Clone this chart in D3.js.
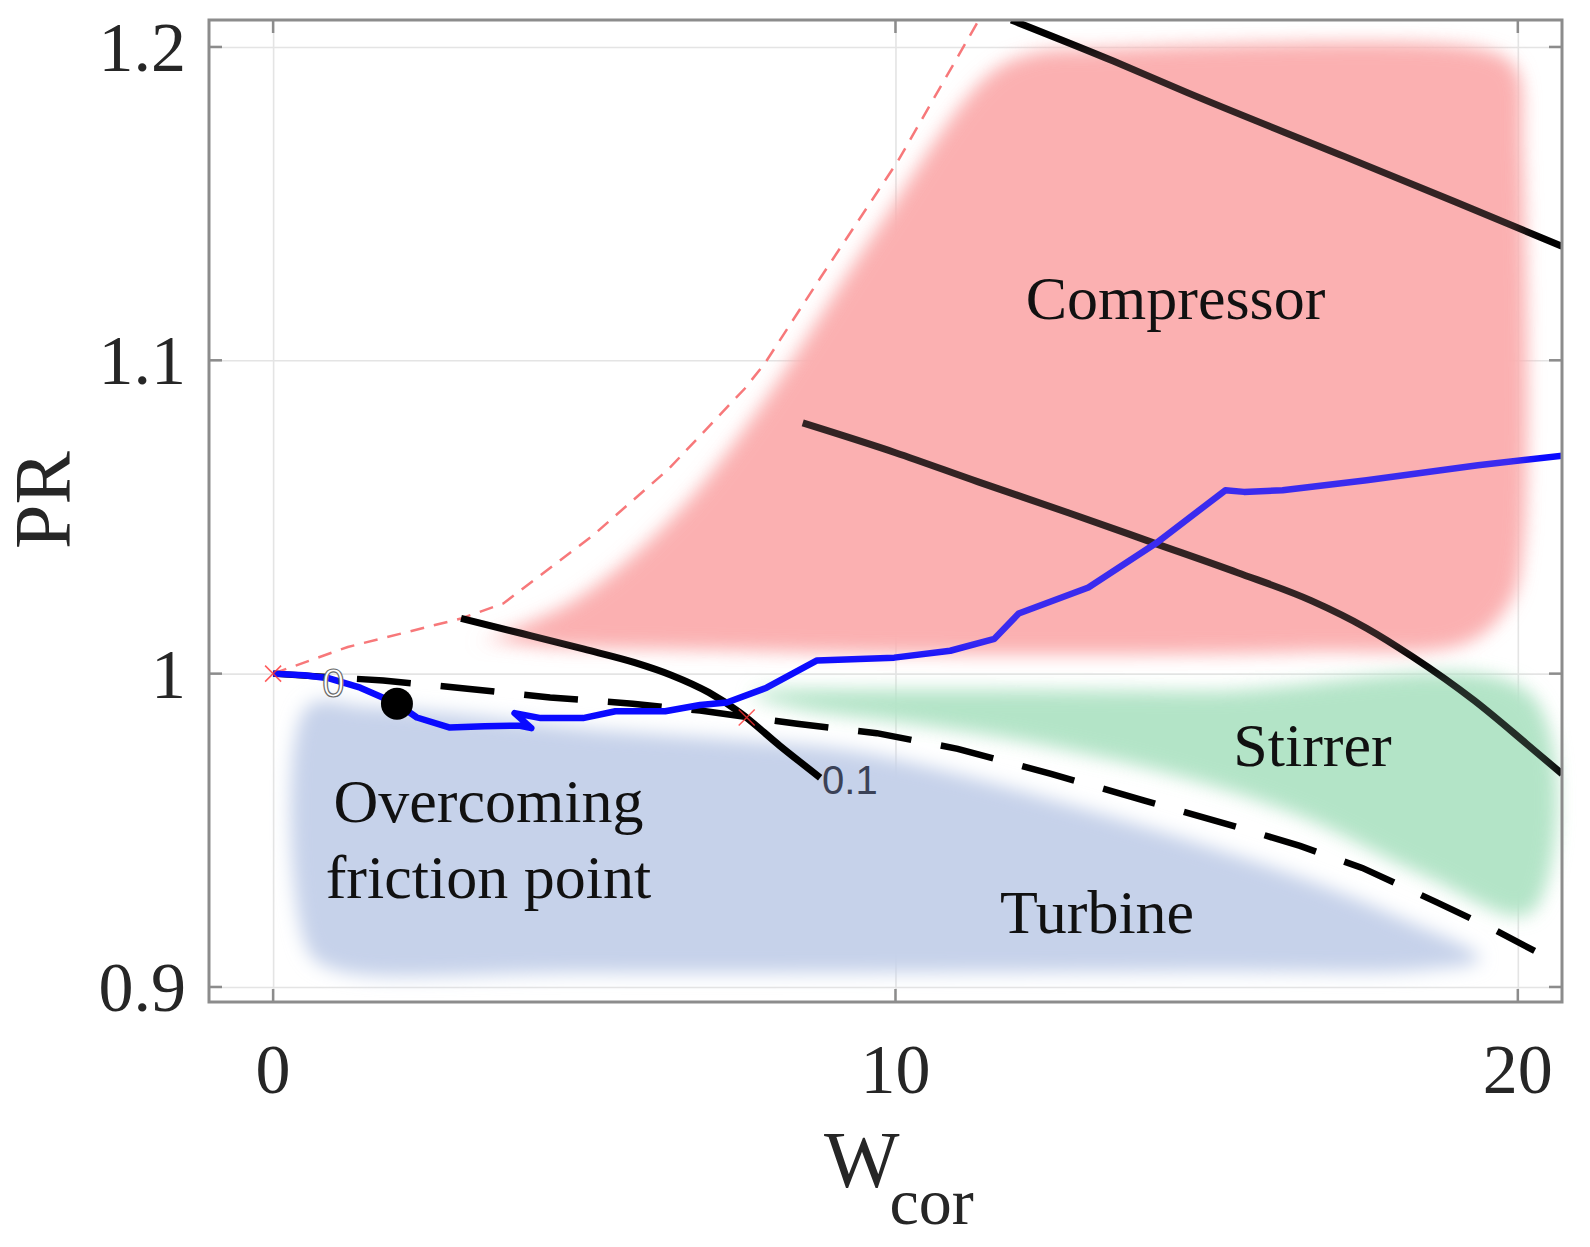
<html>
<meta charset="UTF-8">
<head>
    <title>PR vs Wcor</title>
    <script src="https://d3js.org/d3.v7.min.js"></script>
    <style>
        body { margin: 0; background: white; }
        .gridLines line { stroke: #e4e4e4; stroke-width: 1.6; }
        .gridLines .domain { stroke: none; }
        .tickLabel { font-family: "Liberation Serif", "Times New Roman", serif; fill: #262626; }
        .regionLabel { font-family: "Liberation Serif", "Times New Roman", serif; fill: #111; font-size: 62px; }
        .contourLabel { font-family: "Liberation Sans", Arial, sans-serif; font-size: 40px; }
    </style>
</head>
<body>
<svg id="graph" width="1590" height="1247"></svg>
<script>
    // ticks
    const xTicks = [0, 10, 20];
    const yTicks = [0.9, 1.0, 1.1, 1.2];
    const yTickLabels = ["0.9", "1", "1.1", "1.2"];

    // operating regions (blurred patches)
    const compressorRegion = [[3.28,1.0096],[3.89,1.014],[5.0,1.025],[6.5,1.051],[7.9,1.0866],[9.7,1.141],
        [11.5,1.1907],[12.2,1.1975],[13.3,1.199],[19.4,1.199],[19.95,1.193],[20.06,1.167],[20.06,1.039],
        [19.87,1.0233],[19.2,1.0105],[16.5,1.0073],[10.07,1.0067],[6.86,1.008],[4.45,1.009],[3.49,1.0105]];
    const stirrerRegion = [[7.7,0.9935],[10,0.9945],[15,0.994],[20.2,0.993],[20.2,0.924],[18.5,0.936],
        [16.5,0.955],[14.5,0.968],[12,0.979],[10,0.985],[8.5,0.989]];
    const turbineRegion = [[0.55,0.9895],[1.5,0.9895],[3,0.987],[5,0.9825],[7,0.9795],[9.3,0.9754],[11,0.968],
        [13,0.957],[15,0.945],[16.5,0.935],[18,0.923],[19.4,0.909],[18.5,0.9055],[15,0.905],[5,0.9045],
        [1,0.9055],[0.55,0.912]];
    const regionColors = ["#fbb0b1", "#b3e4c7", "#c6d2ea"];

    // surge-like boundary (red dashed)
    const redDashed = [[0,1.0],[1.2,1.0085],[3.02,1.0176],[3.7,1.0224],[5.12,1.0438],[6.35,1.0652],[7.58,1.091],
        [7.9,1.099],[8.8,1.1265],[10.04,1.1636],[11.34,1.2086]];

    // zero-torque line (black dashed)
    const blackDashed = [[0,1.0],[1.77,0.9978],[3.12,0.9952],[4.45,0.9924],[5.78,0.9904],[6.86,0.9882],
        [8.42,0.984],[9.7,0.981],[11,0.976],[12.5,0.968],[14,0.9595],[15.5,0.951],[16.5,0.945],[17.5,0.938],
        [18.7,0.927],[19.6,0.9185],[20.27,0.9115]];

    // speed lines (black solid)
    const speedLow = [[3.02,1.0176],[4.0,1.0128],[5.0,1.0078],[5.8,1.0036],[6.4,0.9995],[7.0,0.9940],
        [7.5,0.9876],[8.14,0.9770],[8.79,0.9668]];
    const speedMid = [[8.51,1.0800],[10,1.0705],[11.33,1.0612],[12.8,1.0512],[14.18,1.0415],[15.5,1.0322],
        [16.68,1.0233],[17.57,1.0145],[18.3,1.0055],[19.3,0.9914],[20.14,0.9776],[20.71,0.968]];
    const speedHigh = [[11.86,1.2086],[13.5,1.1955],[14.68,1.1855],[17.22,1.1650],[19,1.1505],[20.71,1.1364]];

    // operating trajectory (blue)
    const trajectory = [[0,1.0],[0.5,0.9995],[0.9,0.9985],[1.4,0.9955],[1.99,0.9904],[2.31,0.986],[2.84,0.9828],
        [3.4,0.9832],[3.95,0.9834],[4.15,0.9826],[3.88,0.9874],[4.3,0.9858],[4.98,0.9858],[5.5,0.988],
        [6.3,0.988],[6.86,0.99],[7.29,0.9908],[7.93,0.9955],[8.74,1.0042],[9.98,1.0051],[10.88,1.0073],
        [11.59,1.0111],[11.98,1.0192],[13.1,1.0275],[14.18,1.0415],[15.3,1.0585],[15.6,1.058],[16.22,1.0585],
        [17.57,1.0617],[19.36,1.0665],[20.74,1.0696]];

    const frictionPoint = [1.99, 0.9904];
    const redMarks = [[0, 1.0], [7.61, 0.986]];

    const g = d3.select("svg#graph");
    const box = {left: 209, right: 1562, top: 20, bottom: 1002};

    const xScale = d3.scaleLinear().domain([-1.03, 20.71]).range([box.left, box.right]);
    const yScale = d3.scaleLinear().domain([0.8952, 1.2086]).range([box.bottom, box.top]);

    const defs = g.append("defs");
    defs.append("filter").attr("id", "soft")
        .attr("x", "-10%").attr("y", "-10%").attr("width", "120%").attr("height", "120%")
        .append("feGaussianBlur").attr("stdDeviation", 9);
    defs.append("clipPath").attr("id", "plotClip")
        .append("rect")
        .attr("x", box.left).attr("y", box.top)
        .attr("width", box.right - box.left).attr("height", box.bottom - box.top);

    // grid lines
    g.append("g")
        .attr("class", "gridLines")
        .attr("transform", `translate(0,${box.bottom})`)
        .call(d3.axisBottom(xScale).tickValues(xTicks).tickSize(-(box.bottom - box.top)).tickFormat(""));
    g.append("g")
        .attr("class", "gridLines")
        .attr("transform", `translate(${box.left},0)`)
        .call(d3.axisLeft(yScale).tickValues(yTicks).tickSize(-(box.right - box.left)).tickFormat(""));

    const line = d3.line().x(d => xScale(d[0])).y(d => yScale(d[1]));
    const area = d3.line().x(d => xScale(d[0])).y(d => yScale(d[1])).curve(d3.curveCatmullRomClosed);
    const regionData = [compressorRegion, stirrerRegion, turbineRegion];

    g.append("g").attr("filter", "url(#soft)")
        .selectAll("path")
        .data(regionData)
        .join("path")
        .attr("d", d => area(d))
        .attr("fill", (d, i) => regionColors[i]);

    const plot = g.append("g").attr("clip-path", "url(#plotClip)");

    plot.append("path").attr("d", line(redDashed))
        .attr("fill", "none").attr("stroke", "#f7787a").attr("stroke-width", 2.5)
        .attr("stroke-dasharray", "14,10");

    plot.append("path").attr("d", line(blackDashed))
        .attr("fill", "none").attr("stroke", "#000").attr("stroke-width", 6.5)
        .attr("stroke-dasharray", "54,30");

    const smooth = d3.line().x(d => xScale(d[0])).y(d => yScale(d[1])).curve(d3.curveMonotoneX);
    [speedLow, speedMid, speedHigh].forEach(s => {
        plot.append("path").attr("d", smooth(s))
            .attr("fill", "none").attr("stroke", "#000").attr("stroke-width", 7);
    });

    plot.append("path").attr("d", line(trajectory))
        .attr("fill", "none").attr("stroke", "#0a0aff").attr("stroke-width", 6.5)
        .attr("stroke-linejoin", "round");

    // faint tint of the regions over the lines
    g.append("g").attr("filter", "url(#soft)").attr("opacity", 0.2)
        .selectAll("path")
        .data(regionData.slice(0, 2))
        .join("path")
        .attr("d", d => area(d))
        .attr("fill", (d, i) => regionColors[i]);

    // red x marks
    redMarks.forEach(p => {
        const cx = xScale(p[0]), cy = yScale(p[1]);
        plot.append("path")
            .attr("d", `M${cx-8},${cy-8}L${cx+8},${cy+8}M${cx-8},${cy+8}L${cx+8},${cy-8}`)
            .attr("stroke", "#ff3333").attr("stroke-width", 1.5).attr("opacity", 0.8);
    });

    plot.append("circle")
        .attr("cx", xScale(frictionPoint[0])).attr("cy", yScale(frictionPoint[1]))
        .attr("r", 16).attr("fill", "#000");

    // contour labels
    g.append("text").attr("class", "contourLabel")
        .attr("x", xScale(0.79)).attr("y", yScale(0.9925))
        .attr("fill", "#ffffff").attr("stroke", "#6a6a6a").attr("stroke-width", 1.2)
        .attr("font-size", "38px")
        .text("0");
    g.append("text").attr("class", "contourLabel")
        .attr("x", xScale(8.82)).attr("y", yScale(0.9615))
        .attr("fill", "#3b4257")
        .text("0.1");

    // region labels
    const labels = [
        {t: "Compressor", x: 14.5, y: 1.1133},
        {t: "Stirrer", x: 16.7, y: 0.9705},
        {t: "Turbine", x: 13.24, y: 0.9173},
        {t: "Overcoming", x: 3.46, y: 0.9525},
        {t: "friction point", x: 3.46, y: 0.9285}
    ];
    g.selectAll("text.regionLabel")
        .data(labels)
        .join("text")
        .attr("class", "regionLabel")
        .attr("x", d => xScale(d.x))
        .attr("y", d => yScale(d.y))
        .attr("text-anchor", "middle")
        .text(d => d.t);

    // axis box and inward ticks
    const tickLen = 13;
    const axes = g.append("g").attr("stroke", "#8c8c8c");
    axes.append("rect")
        .attr("x", box.left).attr("y", box.top)
        .attr("width", box.right - box.left).attr("height", box.bottom - box.top)
        .attr("fill", "none").attr("stroke-width", 3);
    xTicks.forEach(t => {
        axes.append("line").attr("x1", xScale(t)).attr("x2", xScale(t))
            .attr("y1", box.bottom).attr("y2", box.bottom - tickLen).attr("stroke-width", 2.5);
        axes.append("line").attr("x1", xScale(t)).attr("x2", xScale(t))
            .attr("y1", box.top).attr("y2", box.top + tickLen).attr("stroke-width", 2.5);
    });
    yTicks.forEach(t => {
        axes.append("line").attr("y1", yScale(t)).attr("y2", yScale(t))
            .attr("x1", box.left).attr("x2", box.left + tickLen).attr("stroke-width", 2.5);
        axes.append("line").attr("y1", yScale(t)).attr("y2", yScale(t))
            .attr("x1", box.right).attr("x2", box.right - tickLen).attr("stroke-width", 2.5);
    });

    // tick labels
    g.selectAll("text.xTick")
        .data(xTicks)
        .join("text")
        .attr("class", "tickLabel xTick")
        .attr("x", d => xScale(d))
        .attr("y", 1093)
        .attr("text-anchor", "middle")
        .attr("font-size", "70px")
        .text(d => d);
    g.selectAll("text.yTick")
        .data(yTicks)
        .join("text")
        .attr("class", "tickLabel yTick")
        .attr("x", 186)
        .attr("y", d => yScale(d) + 24)
        .attr("text-anchor", "end")
        .attr("font-size", "70px")
        .text((d, i) => yTickLabels[i]);

    // axis titles
    g.append("text")
        .attr("class", "tickLabel")
        .attr("transform", "translate(70,500) rotate(-90)")
        .attr("text-anchor", "middle")
        .attr("font-size", "80px")
        .text("PR");
    const xTitle = g.append("text")
        .attr("class", "tickLabel")
        .attr("x", 824).attr("y", 1187)
        .attr("font-size", "80px");
    xTitle.append("tspan").text("W");
    xTitle.append("tspan").attr("dx", -10).attr("dy", 37).attr("font-size", "66px").text("cor");
</script>
</body>
</html>
